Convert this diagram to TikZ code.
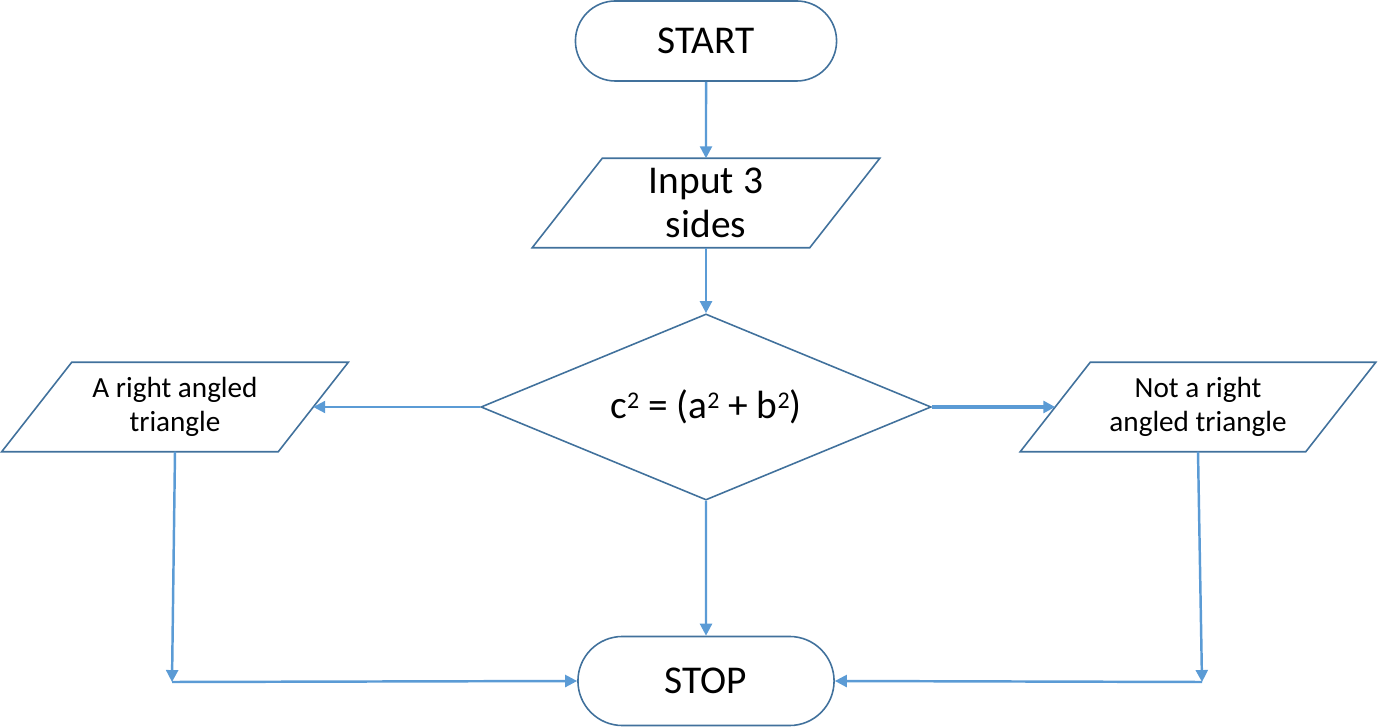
\documentclass[tikz,border=0pt]{standalone}
\usepackage{fontspec}
\setmainfont{Carlito}
\usetikzlibrary{shapes.geometric,shapes.misc,arrows.meta}
\definecolor{edgeblue}{HTML}{41719C}
\definecolor{arrowblue}{HTML}{5B9BD5}
\newcommand{\pwr}{\raisebox{2.8pt}{\fontsize{6.8}{6.8}\selectfont 2}}

\begin{document}
\begin{tikzpicture}[x=0.01cm,y=-0.01cm,
    terminal/.style={rounded rectangle, draw=edgeblue, line width=0.45pt,
        minimum width=2.61cm, minimum height=0.80cm, inner sep=0pt,
        font=\fontsize{11.2}{12}\selectfont},
    io/.style={rectangle, minimum height=0.88cm, inner sep=0pt, align=center},
    decision/.style={diamond, aspect=2.42, draw=edgeblue, line width=0.45pt,
        minimum width=4.5cm, minimum height=1.86cm, inner sep=0pt,
        font=\fontsize{11.2}{12}\selectfont},
    outline/.style={draw=edgeblue, line width=0.45pt},
    flow/.style={draw=arrowblue, line width=0.7pt,
        -{Triangle[length=3.4pt,width=3.4pt]}}]
    \useasboundingbox (0,0) rectangle (1379,728);
    \node[terminal] (start) at (706,41) {START};
    \node[io, minimum width=2.76cm, font=\fontsize{11.2}{12.4}\selectfont]
        (sides) at (706,203) {Input 3\\sides};
    \node[decision] (check) at (706,407) {c\pwr{} = (a\pwr{} + b\pwr)};
    \node[io, minimum width=2.75cm, font=\fontsize{8.3}{9.7}\selectfont]
        (right) at (175,407) {A right angled\\triangle};
    \node[io, minimum width=2.84cm, font=\fontsize{8.3}{9.7}\selectfont]
        (notright) at (1198,407) {Not a right\\angled triangle};
    \node[terminal, minimum width=2.56cm, minimum height=0.89cm]
        (stop) at (706,681) {STOP};
    \coordinate (rcorner) at (172,682);
    \coordinate (ncorner) at (1202,682);

    % slanted input/output boxes
    \foreach \n in {sides,right,notright}
        \draw[outline] ([xshift=0.35cm]\n.north west) -- ([xshift=0.35cm]\n.north east)
            -- ([xshift=-0.35cm]\n.south east) -- ([xshift=-0.35cm]\n.south west) -- cycle;

    \draw[flow] (start) -- (sides);
    \draw[flow] (sides) -- (check);
    \draw[flow] (check.west) -- (right.east);
    \draw[flow, line width=1pt] (check.east) -- (notright.west);
    \draw[flow] (check) -- (stop);
    \draw[flow] (right.south) -- (rcorner);
    \draw[flow] (rcorner) -- (stop.west);
    \draw[flow] (notright.south) -- (ncorner);
    \draw[flow] (ncorner) -- (stop.east);
\end{tikzpicture}
\end{document}
